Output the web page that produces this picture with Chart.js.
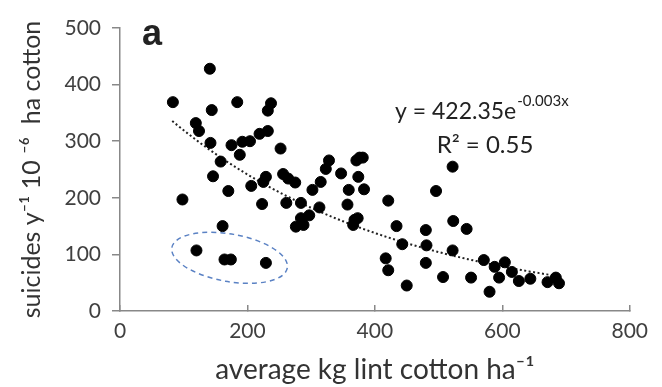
<!DOCTYPE html>
<html>
<head>
<meta charset="utf-8">
<script src="https://cdn.jsdelivr.net/npm/chart.js@4.4.1/dist/chart.umd.min.js"></script>
<style>
  html, body { margin: 0; padding: 0; background: #fff; }
  #wrap { width: 662px; height: 387px; }
</style>
</head>
<body>
<div id="wrap"><canvas id="grafico" width="662" height="387"></canvas></div>
<script>
// Valores: produção média (kg fibra/ha) e suicídios por 10^6 ha
const producao = [
  83, 141, 144, 184, 237, 232, 119, 124, 142, 175, 192, 204, 219, 232, 252, 188,
  158, 146, 170, 206, 229, 225, 256, 264, 275, 98, 223, 261, 284, 284, 276, 288,
  161, 120, 164, 174, 229, 328, 323, 376, 381, 371, 347, 374, 315, 302, 359, 383,
  313, 357, 297, 368, 373, 366, 421, 522, 496, 434, 480, 523, 544, 443, 481, 522,
  417, 421, 480, 450, 507, 551, 571, 580, 588, 604, 595, 615, 626, 644, 671, 684, 689
];
const suicidios = [
  369, 428, 355, 369, 367, 354, 332, 318, 297, 293, 299, 300, 313, 318, 287, 276,
  264, 238, 212, 221, 237, 228, 242, 234, 227, 197, 189, 191, 191, 164, 149, 152,
  150, 107, 91, 91, 85, 266, 251, 271, 271, 266, 243, 237, 228, 214, 214, 215,
  183, 188, 169, 161, 164, 152, 195, 255, 212, 150, 143, 159, 145, 118, 116, 107,
  93, 72, 85, 45, 60, 59, 90, 34, 78, 86, 59, 69, 53, 57, 51, 59, 49
];

// eixos
const ticksX = [0, 200, 400, 600, 800];
const ticksY = [0, 100, 200, 300, 400, 500];

// linha de tendência exponencial (y = a·e^(k·x)); o rótulo arredonda k para -0.003
const TEND_A = 422.35;
const TEND_K = -0.0028;
const TEND_X = [82, 682];

// elipse tracejada à volta dos pontos isolados (unidades dos dados)
const ELIPSE_CENTRO = [172, 94];
const ELIPSE_RAIO = [92, 42];
const ELIPSE_ANGULO = 10; // graus

const pontos = producao.map((x, i) => ({ x: x, y: suicidios[i] }));

const FONTE = 'Lato, "Open Sans", sans-serif';

// Desenha tendência, elipse e textos usando as escalas do Chart.js
const extras = {
  id: 'extras',
  beforeDatasetsDraw(chart) {
    const { ctx, scales: { x, y } } = chart;
    ctx.save();
    // tendência pontilhada
    ctx.beginPath();
    for (let v = TEND_X[0]; v <= TEND_X[1]; v += 4) {
      const px = x.getPixelForValue(v);
      const py = y.getPixelForValue(TEND_A * Math.exp(TEND_K * v));
      if (v === TEND_X[0]) ctx.moveTo(px, py); else ctx.lineTo(px, py);
    }
    ctx.setLineDash([2, 2.5]);
    ctx.lineWidth = 2;
    ctx.strokeStyle = '#222';
    ctx.stroke();
    // elipse
    const cx = x.getPixelForValue(ELIPSE_CENTRO[0]);
    const cy = y.getPixelForValue(ELIPSE_CENTRO[1]);
    const rx = x.getPixelForValue(ELIPSE_CENTRO[0] + ELIPSE_RAIO[0]) - cx;
    const ry = cy - y.getPixelForValue(ELIPSE_CENTRO[1] + ELIPSE_RAIO[1]);
    ctx.beginPath();
    ctx.ellipse(cx, cy, rx, ry, ELIPSE_ANGULO * Math.PI / 180, 0, Math.PI * 2);
    ctx.setLineDash([5, 4]);
    ctx.lineWidth = 1.5;
    ctx.strokeStyle = '#5b82c4';
    ctx.stroke();
    ctx.restore();
  },
  afterDraw(chart) {
    const ctx = chart.ctx;
    ctx.save();
    ctx.fillStyle = '#222';
    ctx.textBaseline = 'alphabetic';
    // letra do painel
    ctx.font = 'bold 36px Arial, "Liberation Sans", Roboto, sans-serif';
    ctx.textAlign = 'left';
    ctx.fillText('a', 142, 45);
    // equação
    ctx.font = '23px ' + FONTE;
    const base = 'y = 422.35e';
    ctx.fillText(base, 395, 119);
    const w = ctx.measureText(base).width;
    ctx.font = '15px ' + FONTE;
    ctx.fillText('-0.003x', 395 + w + 1, 106);
    ctx.font = '24px ' + FONTE;
    ctx.textAlign = 'center';
    ctx.fillText('R² = 0.55', 485, 153);
    ctx.restore();
  }
};

const ctx = document.getElementById('grafico').getContext('2d');
const grafico = new Chart(ctx, {
  type: 'scatter',
  data: {
    datasets: [{
      data: pontos,
      backgroundColor: '#000',
      borderColor: '#000',
      pointRadius: 5.5,
      pointHoverRadius: 5.5
    }]
  },
  options: {
    responsive: false,
    animation: false,
    devicePixelRatio: 1,
    layout: { padding: { top: 28, right: 21, left: 0, bottom: 0 } },
    plugins: { legend: { display: false }, tooltip: { enabled: false } },
    scales: {
      x: {
        type: 'linear', min: 0, max: 800,
        afterBuildTicks: s => { s.ticks = ticksX.map(v => ({ value: v })); },
        afterFit: s => { s.height = 76; },
        ticks: { color: '#404040', font: { family: FONTE, size: 21 }, padding: 14 },
        grid: { drawOnChartArea: false, tickLength: -6, color: '#888', lineWidth: 1.5 },
        border: { color: '#888', width: 1.5 },
        title: {
          display: true, text: 'average kg lint cotton ha⁻¹', color: '#333',
          font: { family: FONTE, size: 28 }, padding: { top: 0, bottom: 0 }
        }
      },
      y: {
        type: 'linear', min: 0, max: 500,
        afterBuildTicks: s => { s.ticks = ticksY.map(v => ({ value: v })); },
        afterFit: s => { s.width = 120; },
        ticks: { color: '#404040', font: { family: FONTE, size: 21 }, padding: 11 },
        grid: { drawOnChartArea: false, tickLength: 8, color: '#888', lineWidth: 1.5 },
        border: { color: '#888', width: 1.5 },
        title: {
          display: true, text: 'suicides y⁻¹ 10 ⁻⁶  ha cotton', color: '#333',
          font: { family: FONTE, size: 25 }, padding: { top: 17, bottom: 0 }
        }
      }
    }
  },
  plugins: [extras]
});
</script>
</body>
</html>
